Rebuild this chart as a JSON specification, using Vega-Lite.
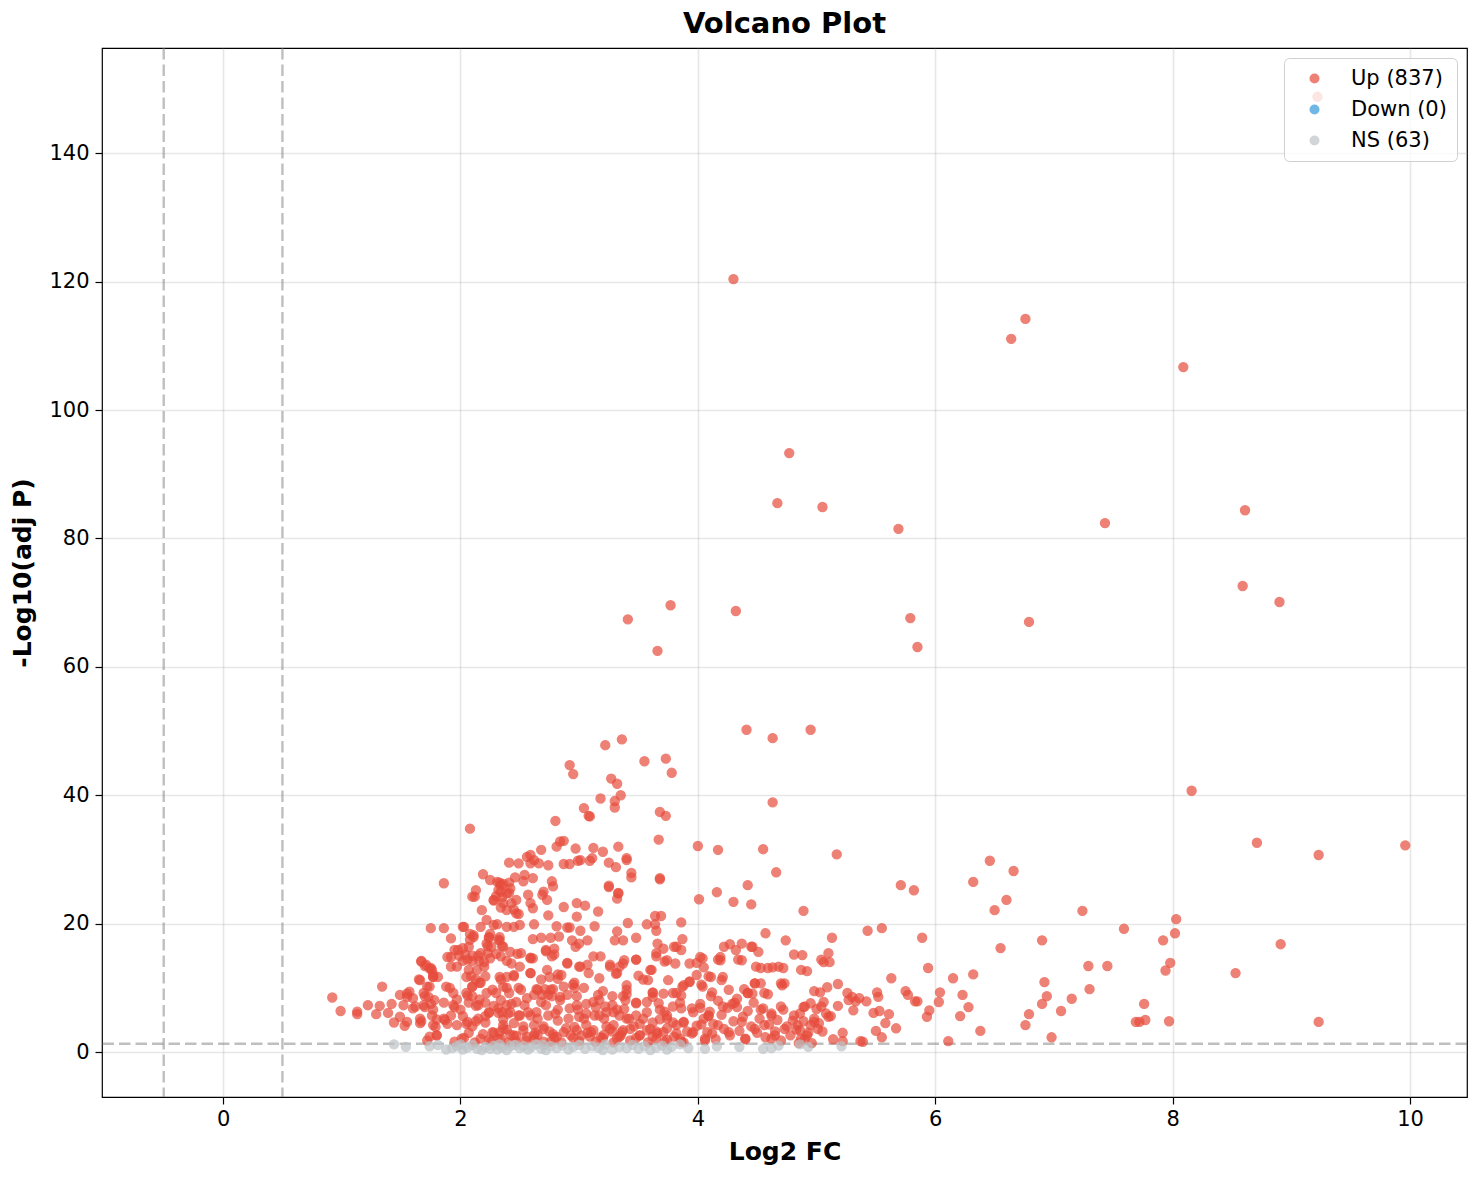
{
  "$schema": "https://vega.github.io/schema/vega-lite/v6.json",
  "description": "Volcano plot of log2 fold change against -log10 adjusted p value.",
  "width": 1365,
  "height": 1049,
  "autosize": "none",
  "padding": {"left": 102, "top": 48, "right": 15, "bottom": 83},
  "background": "white",
  "title": {"text": "Volcano Plot", "fontSize": 29, "fontWeight": "bold", "font": "DejaVu Sans", "color": "#000", "offset": 8, "anchor": "middle"},
  "config": {
    "font": "DejaVu Sans",
    "view": {"stroke": "#000", "strokeWidth": 1.2},
    "axis": {
      "labelFont": "DejaVu Sans", "labelFontSize": 21, "labelColor": "#000",
      "titleFont": "DejaVu Sans", "titleFontSize": 25, "titleFontWeight": "bold", "titleColor": "#000",
      "tickColor": "#000", "tickSize": 7, "tickWidth": 1.2, "domain": false,
      "grid": true, "gridColor": "#b0b0b0", "gridOpacity": 0.3, "gridWidth": 1.6
    },
    "axisX": {"labelPadding": 4, "titlePadding": 10},
    "axisY": {"labelPadding": 6, "titlePadding": 13}
  },
  "datasets": {
    "pts": [
      {"x":4.30,"y":120.4,"g":"Up"},{"x":6.76,"y":114.2,"g":"Up"},{"x":6.64,"y":111.1,"g":"Up"},{"x":8.09,"y":106.7,"g":"Up"},{"x":9.22,"y":148.8,"g":"Up"},
      {"x":4.77,"y":93.3,"g":"Up"},{"x":4.67,"y":85.5,"g":"Up"},{"x":5.05,"y":84.9,"g":"Up"},{"x":8.61,"y":84.4,"g":"Up"},{"x":7.43,"y":82.4,"g":"Up"},
      {"x":5.69,"y":81.5,"g":"Up"},{"x":8.59,"y":72.6,"g":"Up"},{"x":8.90,"y":70.1,"g":"Up"},{"x":3.77,"y":69.6,"g":"Up"},{"x":4.32,"y":68.7,"g":"Up"},
      {"x":3.41,"y":67.4,"g":"Up"},{"x":5.79,"y":67.6,"g":"Up"},{"x":6.79,"y":67.0,"g":"Up"},{"x":5.85,"y":63.1,"g":"Up"},{"x":3.66,"y":62.5,"g":"Up"},
      {"x":4.95,"y":50.2,"g":"Up"},{"x":4.41,"y":50.2,"g":"Up"},{"x":4.63,"y":48.9,"g":"Up"},{"x":3.36,"y":48.7,"g":"Up"},{"x":3.22,"y":47.8,"g":"Up"},
      {"x":3.73,"y":45.7,"g":"Up"},{"x":3.55,"y":45.3,"g":"Up"},{"x":2.92,"y":44.7,"g":"Up"},{"x":2.95,"y":43.3,"g":"Up"},{"x":3.78,"y":43.5,"g":"Up"},
      {"x":3.27,"y":42.6,"g":"Up"},{"x":3.32,"y":41.8,"g":"Up"},{"x":8.16,"y":40.7,"g":"Up"},{"x":3.35,"y":40.0,"g":"Up"},{"x":3.18,"y":39.5,"g":"Up"},
      {"x":4.63,"y":38.9,"g":"Up"},{"x":3.30,"y":39.1,"g":"Up"},{"x":3.30,"y":38.1,"g":"Up"},{"x":3.04,"y":38.0,"g":"Up"},{"x":3.68,"y":37.4,"g":"Up"},
      {"x":3.73,"y":36.8,"g":"Up"},{"x":3.08,"y":36.8,"g":"Up"},{"x":3.09,"y":36.7,"g":"Up"},{"x":2.80,"y":36.0,"g":"Up"},{"x":2.08,"y":34.8,"g":"Up"},
      {"x":3.67,"y":33.1,"g":"Up"},{"x":8.71,"y":32.6,"g":"Up"},{"x":9.96,"y":32.2,"g":"Up"},{"x":4.00,"y":32.1,"g":"Up"},{"x":4.17,"y":31.5,"g":"Up"},
      {"x":4.55,"y":31.6,"g":"Up"},{"x":9.23,"y":30.7,"g":"Up"},{"x":5.17,"y":30.8,"g":"Up"},{"x":6.46,"y":29.8,"g":"Up"},{"x":6.66,"y":28.2,"g":"Up"},
      {"x":4.66,"y":28.0,"g":"Up"},{"x":3.68,"y":26.9,"g":"Up"},{"x":1.86,"y":26.3,"g":"Up"},{"x":6.32,"y":26.5,"g":"Up"},{"x":5.71,"y":26.0,"g":"Up"},
      {"x":5.82,"y":25.2,"g":"Up"},{"x":4.42,"y":26.0,"g":"Up"},{"x":4.16,"y":24.9,"g":"Up"},{"x":4.01,"y":23.8,"g":"Up"},{"x":4.30,"y":23.4,"g":"Up"},
      {"x":4.45,"y":23.0,"g":"Up"},{"x":6.60,"y":23.7,"g":"Up"},{"x":6.50,"y":22.1,"g":"Up"},{"x":7.24,"y":22.0,"g":"Up"},{"x":4.89,"y":22.0,"g":"Up"},
      {"x":6.90,"y":17.4,"g":"Up"},{"x":6.55,"y":16.2,"g":"Up"},{"x":7.29,"y":13.4,"g":"Up"},{"x":7.45,"y":13.4,"g":"Up"},{"x":7.30,"y":9.8,"g":"Up"},
      {"x":6.92,"y":10.9,"g":"Up"},{"x":6.94,"y":8.7,"g":"Up"},{"x":6.90,"y":7.5,"g":"Up"},{"x":7.15,"y":8.3,"g":"Up"},{"x":7.06,"y":6.4,"g":"Up"},
      {"x":6.79,"y":5.9,"g":"Up"},{"x":6.76,"y":4.2,"g":"Up"},{"x":6.98,"y":2.3,"g":"Up"},{"x":6.32,"y":12.1,"g":"Up"},{"x":6.15,"y":11.5,"g":"Up"},
      {"x":6.23,"y":8.9,"g":"Up"},{"x":6.28,"y":7.0,"g":"Up"},{"x":6.21,"y":5.6,"g":"Up"},{"x":6.38,"y":3.3,"g":"Up"},{"x":6.11,"y":1.7,"g":"Up"},
      {"x":5.94,"y":13.1,"g":"Up"},{"x":5.89,"y":17.8,"g":"Up"},{"x":6.04,"y":9.3,"g":"Up"},{"x":6.03,"y":7.8,"g":"Up"},{"x":5.93,"y":5.5,"g":"Up"},
      {"x":5.95,"y":6.5,"g":"Up"},{"x":5.63,"y":11.5,"g":"Up"},{"x":5.55,"y":19.3,"g":"Up"},{"x":5.43,"y":18.9,"g":"Up"},{"x":5.13,"y":17.8,"g":"Up"},
      {"x":5.10,"y":15.4,"g":"Up"},{"x":5.06,"y":14.0,"g":"Up"},{"x":5.11,"y":14.0,"g":"Up"},{"x":5.18,"y":10.6,"g":"Up"},{"x":5.09,"y":10.1,"g":"Up"},
      {"x":5.03,"y":9.3,"g":"Up"},{"x":5.51,"y":9.3,"g":"Up"},{"x":5.52,"y":8.6,"g":"Up"},{"x":5.75,"y":9.5,"g":"Up"},{"x":5.77,"y":8.9,"g":"Up"},
      {"x":5.83,"y":7.9,"g":"Up"},{"x":5.85,"y":7.9,"g":"Up"},{"x":5.61,"y":5.9,"g":"Up"},{"x":5.58,"y":4.5,"g":"Up"},{"x":5.67,"y":3.7,"g":"Up"},
      {"x":5.55,"y":2.3,"g":"Up"},{"x":5.50,"y":3.3,"g":"Up"},{"x":5.48,"y":6.1,"g":"Up"},{"x":5.53,"y":6.4,"g":"Up"},{"x":5.42,"y":7.9,"g":"Up"},
      {"x":5.37,"y":1.7,"g":"Up"},{"x":5.39,"y":1.6,"g":"Up"},{"x":5.22,"y":3.0,"g":"Up"},{"x":5.22,"y":1.7,"g":"Up"},{"x":5.18,"y":7.2,"g":"Up"},
      {"x":5.33,"y":7.9,"g":"Up"},{"x":5.31,"y":6.5,"g":"Up"},{"x":5.26,"y":9.2,"g":"Up"},{"x":5.30,"y":8.6,"g":"Up"},{"x":5.36,"y":8.4,"g":"Up"},
      {"x":5.27,"y":8.1,"g":"Up"},{"x":5.00,"y":6.7,"g":"Up"},{"x":4.95,"y":7.6,"g":"Up"},{"x":4.89,"y":7.0,"g":"Up"},{"x":4.89,"y":4.8,"g":"Up"},
      {"x":4.98,"y":4.7,"g":"Up"},{"x":4.93,"y":3.0,"g":"Up"},{"x":4.86,"y":3.4,"g":"Up"},{"x":4.85,"y":1.4,"g":"Up"},{"x":4.96,"y":1.4,"g":"Up"},
      {"x":5.10,"y":5.5,"g":"Up"},{"x":5.12,"y":5.6,"g":"Up"},{"x":5.08,"y":6.0,"g":"Up"},{"x":5.06,"y":7.8,"g":"Up"},{"x":4.88,"y":15.1,"g":"Up"},
      {"x":4.92,"y":12.6,"g":"Up"},{"x":4.74,"y":17.4,"g":"Up"},{"x":4.57,"y":18.5,"g":"Up"},{"x":4.46,"y":16.4,"g":"Up"},{"x":4.51,"y":15.6,"g":"Up"},
      {"x":4.27,"y":16.8,"g":"Up"},{"x":4.32,"y":15.9,"g":"Up"},{"x":4.37,"y":14.3,"g":"Up"},{"x":4.53,"y":13.1,"g":"Up"},{"x":4.63,"y":13.2,"g":"Up"},
      {"x":4.72,"y":13.1,"g":"Up"},{"x":4.71,"y":10.4,"g":"Up"},{"x":4.73,"y":10.7,"g":"Up"},{"x":4.59,"y":9.0,"g":"Up"},{"x":4.48,"y":10.7,"g":"Up"},
      {"x":4.53,"y":10.7,"g":"Up"},{"x":4.39,"y":9.8,"g":"Up"},{"x":4.42,"y":9.2,"g":"Up"},{"x":4.46,"y":9.1,"g":"Up"},{"x":4.26,"y":9.7,"g":"Up"},
      {"x":4.33,"y":8.3,"g":"Up"},{"x":4.29,"y":7.5,"g":"Up"},{"x":4.21,"y":11.7,"g":"Up"},{"x":4.20,"y":11.2,"g":"Up"},{"x":4.11,"y":11.7,"g":"Up"},
      {"x":4.12,"y":9.3,"g":"Up"},{"x":4.19,"y":14.8,"g":"Up"},{"x":4.19,"y":14.3,"g":"Up"},{"x":4.04,"y":14.6,"g":"Up"},{"x":4.02,"y":14.8,"g":"Up"},
      {"x":4.05,"y":13.2,"g":"Up"},{"x":3.99,"y":12.0,"g":"Up"},{"x":4.03,"y":10.5,"g":"Up"},
      {"x":7.59,"y":19.2,"g":"Up"},{"x":8.03,"y":20.7,"g":"Up"},{"x":8.02,"y":18.5,"g":"Up"},{"x":7.92,"y":17.4,"g":"Up"},{"x":8.91,"y":16.8,"g":"Up"},
      {"x":7.98,"y":13.9,"g":"Up"},{"x":7.94,"y":12.7,"g":"Up"},{"x":8.53,"y":12.3,"g":"Up"},{"x":7.76,"y":7.5,"g":"Up"},{"x":7.69,"y":4.7,"g":"Up"},
      {"x":7.72,"y":4.7,"g":"Up"},{"x":7.77,"y":5.0,"g":"Up"},{"x":7.97,"y":4.8,"g":"Up"},{"x":9.23,"y":4.7,"g":"Up"},
      {"x":4.02,"y":7.5,"g":"Up"},{"x":4.05,"y":5.2,"g":"Up"},{"x":4.08,"y":3.1,"g":"Up"},{"x":4.10,"y":6.3,"g":"Up"},{"x":4.13,"y":4.4,"g":"Up"},
      {"x":4.15,"y":2.0,"g":"Up"},{"x":4.17,"y":8.0,"g":"Up"},{"x":4.20,"y":5.8,"g":"Up"},{"x":4.22,"y":3.6,"g":"Up"},{"x":4.25,"y":6.9,"g":"Up"},
      {"x":4.27,"y":2.6,"g":"Up"},{"x":4.30,"y":4.8,"g":"Up"},{"x":4.33,"y":7.0,"g":"Up"},{"x":4.35,"y":3.3,"g":"Up"},{"x":4.38,"y":5.5,"g":"Up"},
      {"x":4.40,"y":2.0,"g":"Up"},{"x":4.42,"y":6.4,"g":"Up"},{"x":4.45,"y":4.0,"g":"Up"},{"x":4.47,"y":7.7,"g":"Up"},{"x":4.50,"y":3.0,"g":"Up"},
      {"x":4.52,"y":5.2,"g":"Up"},{"x":4.55,"y":6.8,"g":"Up"},{"x":4.57,"y":2.3,"g":"Up"},{"x":4.60,"y":4.3,"g":"Up"},{"x":4.62,"y":6.0,"g":"Up"},
      {"x":4.65,"y":3.2,"g":"Up"},{"x":4.67,"y":5.0,"g":"Up"},{"x":4.70,"y":1.8,"g":"Up"},{"x":4.72,"y":6.6,"g":"Up"},{"x":4.75,"y":4.0,"g":"Up"},
      {"x":4.78,"y":2.6,"g":"Up"},{"x":4.80,"y":4.9,"g":"Up"},{"x":4.83,"y":3.5,"g":"Up"},{"x":4.86,"y":6.0,"g":"Up"},{"x":4.90,"y":2.0,"g":"Up"},
      {"x":4.95,"y":4.2,"g":"Up"},{"x":5.02,"y":4.5,"g":"Up"},{"x":5.05,"y":3.2,"g":"Up"},{"x":5.14,"y":2.0,"g":"Up"},
      {"x":4.03,"y":4.3,"g":"Up"},{"x":4.06,"y":1.8,"g":"Up"},{"x":4.09,"y":5.6,"g":"Up"},{"x":4.12,"y":2.9,"g":"Up"},
      {"x":0.92,"y":8.5,"g":"Up"},{"x":0.99,"y":6.4,"g":"Up"},{"x":1.13,"y":6.3,"g":"Up"},{"x":1.13,"y":5.9,"g":"Up"},{"x":1.22,"y":7.3,"g":"Up"},
      {"x":1.29,"y":5.9,"g":"Up"},{"x":1.34,"y":10.2,"g":"Up"},{"x":1.32,"y":7.2,"g":"Up"},{"x":1.39,"y":6.1,"g":"Up"},{"x":1.42,"y":7.5,"g":"Up"},
      {"x":1.44,"y":4.6,"g":"Up"},{"x":1.49,"y":8.9,"g":"Up"},{"x":1.49,"y":5.5,"g":"Up"},{"x":1.53,"y":4.1,"g":"Up"},{"x":1.57,"y":9.4,"g":"Up"},
      {"x":1.55,"y":8.6,"g":"Up"},{"x":1.62,"y":7.1,"g":"Up"},{"x":1.65,"y":11.3,"g":"Up"},{"x":1.67,"y":14.2,"g":"Up"},{"x":1.70,"y":13.4,"g":"Up"},
      {"x":1.66,"y":4.5,"g":"Up"},{"x":1.67,"y":4.8,"g":"Up"},{"x":1.75,"y":19.3,"g":"Up"},{"x":1.86,"y":19.3,"g":"Up"},{"x":1.92,"y":17.7,"g":"Up"},
      {"x":1.74,"y":13.0,"g":"Up"},{"x":1.77,"y":11.7,"g":"Up"},{"x":1.81,"y":11.7,"g":"Up"},{"x":1.72,"y":10.2,"g":"Up"},{"x":1.69,"y":9.2,"g":"Up"},
      {"x":1.73,"y":8.6,"g":"Up"},{"x":1.75,"y":7.5,"g":"Up"},{"x":1.70,"y":7.0,"g":"Up"},{"x":1.76,"y":5.7,"g":"Up"},{"x":1.79,"y":3.9,"g":"Up"},
      {"x":1.74,"y":2.4,"g":"Up"},{"x":1.80,"y":5.1,"g":"Up"},{"x":1.87,"y":5.0,"g":"Up"},{"x":1.89,"y":4.4,"g":"Up"},{"x":1.88,"y":10.2,"g":"Up"},
      {"x":1.91,"y":10.0,"g":"Up"},{"x":1.94,"y":9.2,"g":"Up"},{"x":1.95,"y":7.0,"g":"Up"},{"x":1.97,"y":8.2,"g":"Up"},{"x":1.89,"y":14.8,"g":"Up"},
      {"x":1.92,"y":14.8,"g":"Up"},{"x":1.95,"y":15.9,"g":"Up"},{"x":1.98,"y":15.9,"g":"Up"},{"x":1.92,"y":13.3,"g":"Up"},{"x":1.97,"y":13.3,"g":"Up"},
      {"x":2.02,"y":19.5,"g":"Up"},{"x":2.11,"y":18.2,"g":"Up"},{"x":2.08,"y":17.5,"g":"Up"},{"x":2.12,"y":24.2,"g":"Up"},{"x":2.10,"y":24.2,"g":"Up"},
      {"x":2.13,"y":25.2,"g":"Up"},{"x":2.19,"y":27.7,"g":"Up"},{"x":2.18,"y":22.1,"g":"Up"},{"x":2.04,"y":15.2,"g":"Up"},{"x":2.02,"y":14.2,"g":"Up"},
      {"x":2.10,"y":14.2,"g":"Up"},{"x":2.16,"y":14.2,"g":"Up"},{"x":2.07,"y":12.8,"g":"Up"},{"x":2.05,"y":11.7,"g":"Up"},{"x":2.13,"y":11.3,"g":"Up"},
      {"x":2.16,"y":10.8,"g":"Up"},{"x":2.10,"y":10.2,"g":"Up"},{"x":2.05,"y":9.2,"g":"Up"},{"x":2.10,"y":8.7,"g":"Up"},{"x":2.16,"y":8.2,"g":"Up"},
      {"x":2.07,"y":7.7,"g":"Up"},{"x":2.13,"y":7.2,"g":"Up"},{"x":2.21,"y":7.7,"g":"Up"},{"x":2.02,"y":5.6,"g":"Up"},{"x":2.05,"y":4.4,"g":"Up"},
      {"x":2.10,"y":4.0,"g":"Up"},{"x":2.13,"y":4.8,"g":"Up"},{"x":2.07,"y":3.0,"g":"Up"},{"x":2.21,"y":4.6,"g":"Up"},{"x":2.22,"y":16.9,"g":"Up"},
      {"x":2.24,"y":17.9,"g":"Up"},{"x":2.22,"y":20.6,"g":"Up"},{"x":2.25,"y":18.4,"g":"Up"},{"x":2.28,"y":19.8,"g":"Up"},{"x":2.23,"y":15.4,"g":"Up"},
      {"x":2.25,"y":14.6,"g":"Up"},{"x":2.20,"y":13.3,"g":"Up"},{"x":2.28,"y":23.7,"g":"Up"},{"x":2.25,"y":26.8,"g":"Up"},{"x":2.33,"y":26.4,"g":"Up"},
      {"x":2.32,"y":25.2,"g":"Up"},{"x":2.30,"y":24.3,"g":"Up"},{"x":2.36,"y":23.2,"g":"Up"},{"x":2.39,"y":22.1,"g":"Up"},{"x":2.41,"y":26.4,"g":"Up"},
      {"x":2.41,"y":24.8,"g":"Up"},{"x":2.41,"y":29.5,"g":"Up"},{"x":2.33,"y":17.4,"g":"Up"},{"x":2.36,"y":16.4,"g":"Up"},{"x":2.30,"y":15.3,"g":"Up"},
      {"x":2.39,"y":14.2,"g":"Up"},{"x":2.33,"y":11.7,"g":"Up"},{"x":2.36,"y":10.2,"g":"Up"},{"x":2.41,"y":9.2,"g":"Up"},{"x":2.30,"y":9.2,"g":"Up"},
      {"x":2.22,"y":9.2,"g":"Up"},{"x":2.28,"y":7.2,"g":"Up"},{"x":2.24,"y":6.1,"g":"Up"},{"x":2.21,"y":5.6,"g":"Up"},{"x":2.32,"y":6.1,"g":"Up"},
      {"x":2.36,"y":5.1,"g":"Up"},{"x":2.39,"y":3.5,"g":"Up"},{"x":2.28,"y":3.0,"g":"Up"},{"x":2.32,"y":2.1,"g":"Up"},{"x":2.24,"y":1.9,"g":"Up"},
      {"x":2.49,"y":29.4,"g":"Up"},{"x":2.59,"y":29.4,"g":"Up"},{"x":2.66,"y":29.4,"g":"Up"},{"x":2.74,"y":29.1,"g":"Up"},{"x":2.87,"y":29.3,"g":"Up"},
      {"x":2.92,"y":29.3,"g":"Up"},{"x":2.99,"y":29.8,"g":"Up"},{"x":3.09,"y":29.8,"g":"Up"},{"x":3.25,"y":29.5,"g":"Up"},{"x":3.31,"y":28.8,"g":"Up"},
      {"x":3.40,"y":29.9,"g":"Up"},{"x":3.44,"y":27.9,"g":"Up"},{"x":3.44,"y":27.2,"g":"Up"},{"x":3.68,"y":27.1,"g":"Up"},{"x":3.25,"y":25.9,"g":"Up"},
      {"x":3.33,"y":24.8,"g":"Up"},{"x":3.32,"y":23.9,"g":"Up"},{"x":2.54,"y":27.6,"g":"Up"},{"x":2.53,"y":26.6,"g":"Up"},{"x":2.61,"y":27.1,"g":"Up"},
      {"x":2.77,"y":26.6,"g":"Up"},{"x":2.78,"y":25.8,"g":"Up"},{"x":2.70,"y":25.0,"g":"Up"},{"x":2.69,"y":24.5,"g":"Up"},{"x":2.73,"y":23.7,"g":"Up"},
      {"x":2.42,"y":25.5,"g":"Up"},{"x":2.36,"y":26.2,"g":"Up"},{"x":2.39,"y":24.7,"g":"Up"},{"x":2.57,"y":24.5,"g":"Up"},{"x":2.59,"y":23.2,"g":"Up"},
      {"x":2.61,"y":22.4,"g":"Up"},{"x":2.43,"y":23.2,"g":"Up"},{"x":2.47,"y":21.6,"g":"Up"},{"x":2.45,"y":19.5,"g":"Up"},{"x":2.50,"y":19.8,"g":"Up"},
      {"x":2.39,"y":19.5,"g":"Up"},{"x":2.33,"y":17.9,"g":"Up"},{"x":2.74,"y":21.3,"g":"Up"},{"x":2.87,"y":22.6,"g":"Up"},{"x":2.98,"y":23.2,"g":"Up"},
      {"x":3.05,"y":22.8,"g":"Up"},{"x":3.16,"y":21.9,"g":"Up"},{"x":2.98,"y":21.1,"g":"Up"},{"x":2.62,"y":19.9,"g":"Up"},{"x":2.81,"y":19.6,"g":"Up"},
      {"x":2.90,"y":19.4,"g":"Up"},{"x":2.92,"y":19.4,"g":"Up"},{"x":3.01,"y":18.9,"g":"Up"},{"x":3.13,"y":19.6,"g":"Up"},{"x":3.41,"y":20.1,"g":"Up"},
      {"x":3.57,"y":19.9,"g":"Up"},{"x":3.64,"y":21.2,"g":"Up"},{"x":3.69,"y":21.2,"g":"Up"},{"x":3.65,"y":18.9,"g":"Up"},{"x":3.64,"y":19.9,"g":"Up"},
      {"x":3.86,"y":20.2,"g":"Up"},{"x":2.61,"y":17.6,"g":"Up"},{"x":2.68,"y":17.8,"g":"Up"},{"x":2.76,"y":17.8,"g":"Up"},{"x":2.83,"y":18.0,"g":"Up"},
      {"x":2.94,"y":17.4,"g":"Up"},{"x":3.00,"y":16.9,"g":"Up"},{"x":3.07,"y":17.4,"g":"Up"},{"x":2.97,"y":16.4,"g":"Up"},{"x":2.72,"y":15.9,"g":"Up"},
      {"x":2.79,"y":16.1,"g":"Up"},{"x":2.77,"y":14.9,"g":"Up"},{"x":2.59,"y":14.6,"g":"Up"},{"x":2.42,"y":15.6,"g":"Up"},{"x":2.48,"y":15.3,"g":"Up"},
      {"x":3.32,"y":18.8,"g":"Up"},{"x":3.30,"y":17.4,"g":"Up"},{"x":3.37,"y":17.4,"g":"Up"},{"x":3.48,"y":17.8,"g":"Up"},{"x":3.66,"y":16.9,"g":"Up"},
      {"x":3.71,"y":16.1,"g":"Up"},{"x":3.65,"y":14.9,"g":"Up"},{"x":3.80,"y":16.4,"g":"Up"},{"x":3.87,"y":17.6,"g":"Up"},{"x":3.86,"y":15.9,"g":"Up"},
      {"x":3.74,"y":14.3,"g":"Up"},{"x":3.81,"y":13.8,"g":"Up"},{"x":2.90,"y":13.9,"g":"Up"},{"x":3.00,"y":13.3,"g":"Up"},{"x":3.07,"y":13.6,"g":"Up"},
      {"x":3.12,"y":14.9,"g":"Up"},{"x":3.18,"y":14.9,"g":"Up"},{"x":3.26,"y":13.3,"g":"Up"},{"x":3.34,"y":13.3,"g":"Up"},{"x":3.38,"y":14.3,"g":"Up"},
      {"x":3.48,"y":14.4,"g":"Up"},{"x":3.61,"y":12.8,"g":"Up"},{"x":3.31,"y":12.2,"g":"Up"},{"x":3.50,"y":11.9,"g":"Up"},{"x":3.58,"y":11.2,"g":"Up"},
      {"x":3.75,"y":11.2,"g":"Up"},{"x":2.73,"y":12.8,"g":"Up"},{"x":2.75,"y":11.7,"g":"Up"},{"x":2.82,"y":11.4,"g":"Up"},{"x":2.85,"y":12.0,"g":"Up"},
      {"x":2.59,"y":12.3,"g":"Up"},{"x":2.39,"y":11.7,"g":"Up"},{"x":2.45,"y":12.0,"g":"Up"},{"x":2.50,"y":13.3,"g":"Up"},{"x":2.59,"y":14.7,"g":"Up"},
      {"x":2.39,"y":10.0,"g":"Up"},{"x":2.49,"y":10.0,"g":"Up"},{"x":2.64,"y":9.8,"g":"Up"},{"x":2.71,"y":9.8,"g":"Up"},{"x":2.78,"y":9.8,"g":"Up"},
      {"x":2.95,"y":10.5,"g":"Up"},{"x":3.04,"y":10.0,"g":"Up"},{"x":2.96,"y":10.0,"g":"Up"},{"x":2.90,"y":8.9,"g":"Up"},{"x":2.84,"y":8.6,"g":"Up"},
      {"x":2.74,"y":8.9,"g":"Up"},{"x":2.69,"y":8.9,"g":"Up"},{"x":2.62,"y":8.9,"g":"Up"},{"x":3.20,"y":9.5,"g":"Up"},{"x":3.16,"y":8.9,"g":"Up"},
      {"x":3.40,"y":10.4,"g":"Up"},{"x":3.40,"y":9.0,"g":"Up"},{"x":3.39,"y":8.1,"g":"Up"},{"x":3.48,"y":7.6,"g":"Up"},{"x":3.62,"y":9.3,"g":"Up"},
      {"x":3.62,"y":8.6,"g":"Up"},{"x":3.71,"y":9.1,"g":"Up"},{"x":3.79,"y":9.2,"g":"Up"},{"x":3.86,"y":8.8,"g":"Up"},{"x":3.88,"y":10.4,"g":"Up"},
      {"x":3.93,"y":10.9,"g":"Up"},{"x":3.99,"y":13.9,"g":"Up"},{"x":3.57,"y":7.8,"g":"Up"},{"x":3.67,"y":7.6,"g":"Up"},{"x":3.79,"y":7.1,"g":"Up"},
      {"x":3.86,"y":6.8,"g":"Up"},{"x":3.72,"y":6.3,"g":"Up"},{"x":3.95,"y":6.8,"g":"Up"},{"x":2.39,"y":7.3,"g":"Up"},{"x":2.47,"y":7.8,"g":"Up"},
      {"x":2.54,"y":7.3,"g":"Up"},{"x":2.35,"y":6.2,"g":"Up"},{"x":2.42,"y":6.2,"g":"Up"},{"x":2.50,"y":5.7,"g":"Up"},{"x":2.59,"y":5.7,"g":"Up"},
      {"x":2.64,"y":6.2,"g":"Up"},{"x":2.72,"y":7.3,"g":"Up"},{"x":2.80,"y":6.0,"g":"Up"},{"x":2.82,"y":4.9,"g":"Up"},{"x":2.92,"y":6.8,"g":"Up"},
      {"x":2.98,"y":7.3,"g":"Up"},{"x":3.00,"y":5.5,"g":"Up"},{"x":3.06,"y":6.0,"g":"Up"},{"x":3.12,"y":7.8,"g":"Up"},{"x":3.14,"y":7.0,"g":"Up"},
      {"x":3.17,"y":5.7,"g":"Up"},{"x":3.23,"y":6.2,"g":"Up"},{"x":3.28,"y":7.3,"g":"Up"},{"x":3.34,"y":5.7,"g":"Up"},{"x":3.38,"y":6.7,"g":"Up"},
      {"x":3.42,"y":5.2,"g":"Up"},{"x":3.48,"y":5.7,"g":"Up"},{"x":3.51,"y":4.4,"g":"Up"},{"x":3.57,"y":6.2,"g":"Up"},{"x":3.62,"y":4.6,"g":"Up"},
      {"x":3.68,"y":5.1,"g":"Up"},{"x":3.74,"y":5.7,"g":"Up"},{"x":3.79,"y":4.6,"g":"Up"},{"x":3.88,"y":4.6,"g":"Up"},{"x":3.96,"y":6.2,"g":"Up"},
      {"x":3.99,"y":4.1,"g":"Up"},{"x":2.36,"y":4.2,"g":"Up"},{"x":2.45,"y":4.5,"g":"Up"},{"x":2.53,"y":4.0,"g":"Up"},{"x":2.62,"y":4.2,"g":"Up"},
      {"x":2.70,"y":4.0,"g":"Up"},{"x":2.75,"y":3.2,"g":"Up"},{"x":2.89,"y":3.7,"g":"Up"},{"x":2.98,"y":3.4,"g":"Up"},{"x":3.06,"y":4.2,"g":"Up"},
      {"x":3.12,"y":3.4,"g":"Up"},{"x":3.23,"y":4.0,"g":"Up"},{"x":3.28,"y":3.2,"g":"Up"},{"x":3.37,"y":3.4,"g":"Up"},{"x":3.46,"y":4.0,"g":"Up"},
      {"x":3.57,"y":3.4,"g":"Up"},{"x":3.65,"y":3.2,"g":"Up"},{"x":3.74,"y":3.7,"g":"Up"},{"x":3.82,"y":2.9,"g":"Up"},{"x":3.91,"y":3.2,"g":"Up"},
      {"x":2.42,"y":2.7,"g":"Up"},{"x":2.56,"y":2.4,"g":"Up"},{"x":2.65,"y":2.7,"g":"Up"},{"x":2.81,"y":2.4,"g":"Up"},{"x":2.95,"y":2.2,"g":"Up"},
      {"x":3.09,"y":2.4,"g":"Up"},{"x":3.20,"y":2.2,"g":"Up"},{"x":3.34,"y":2.4,"g":"Up"},{"x":3.48,"y":2.2,"g":"Up"},{"x":3.62,"y":2.4,"g":"Up"},
      {"x":3.74,"y":1.9,"g":"Up"},{"x":3.86,"y":1.6,"g":"Up"},{"x":2.62,"y":1.9,"g":"Up"},{"x":2.47,"y":1.6,"g":"Up"},{"x":2.76,"y":1.6,"g":"Up"},
      {"x":2.84,"y":32.8,"g":"Up"},{"x":2.87,"y":32.9,"g":"Up"},{"x":2.81,"y":32.0,"g":"Up"},{"x":2.97,"y":31.7,"g":"Up"},{"x":3.12,"y":31.8,"g":"Up"},
      {"x":3.20,"y":31.2,"g":"Up"},{"x":3.33,"y":32.0,"g":"Up"},{"x":2.68,"y":31.5,"g":"Up"},{"x":2.59,"y":30.7,"g":"Up"},{"x":2.56,"y":30.4,"g":"Up"},
      {"x":2.62,"y":29.9,"g":"Up"},{"x":3.01,"y":29.9,"g":"Up"},{"x":3.11,"y":30.2,"g":"Up"},{"x":3.40,"y":30.2,"g":"Up"},{"x":3.25,"y":25.7,"g":"Up"},
      {"x":3.33,"y":24.7,"g":"Up"},{"x":2.31,"y":26.5,"g":"Up"},{"x":2.34,"y":26.0,"g":"Up"},{"x":2.46,"y":27.2,"g":"Up"},{"x":2.34,"y":25.0,"g":"Up"},
      {"x":2.35,"y":24.1,"g":"Up"},{"x":2.28,"y":23.6,"g":"Up"},{"x":2.34,"y":22.5,"g":"Up"},{"x":2.47,"y":23.7,"g":"Up"},{"x":2.45,"y":22.2,"g":"Up"},
      {"x":2.49,"y":21.5,"g":"Up"},{"x":2.03,"y":19.5,"g":"Up"},{"x":2.08,"y":18.4,"g":"Up"},{"x":2.11,"y":17.9,"g":"Up"},{"x":2.17,"y":19.5,"g":"Up"},
      {"x":2.31,"y":19.9,"g":"Up"},{"x":2.24,"y":17.8,"g":"Up"},{"x":2.23,"y":16.5,"g":"Up"},{"x":2.32,"y":17.5,"g":"Up"},{"x":2.35,"y":16.5,"g":"Up"},
      {"x":2.02,"y":16.2,"g":"Up"},{"x":2.07,"y":16.4,"g":"Up"},{"x":2.10,"y":15.0,"g":"Up"},{"x":1.99,"y":15.0,"g":"Up"},{"x":2.15,"y":15.0,"g":"Up"},
      {"x":2.20,"y":14.0,"g":"Up"},{"x":1.71,"y":13.6,"g":"Up"},{"x":1.75,"y":13.1,"g":"Up"},{"x":1.77,"y":12.1,"g":"Up"},
      {"x":1.72,"y":1.8,"g":"Up"},{"x":1.80,"y":2.6,"g":"Up"},{"x":1.95,"y":1.6,"g":"Up"},{"x":2.03,"y":2.2,"g":"Up"},{"x":2.12,"y":1.5,"g":"Up"},
      {"x":2.19,"y":2.8,"g":"Up"},{"x":2.26,"y":1.7,"g":"Up"},{"x":2.33,"y":3.1,"g":"Up"},{"x":2.40,"y":1.5,"g":"Up"},{"x":2.47,"y":2.5,"g":"Up"},
      {"x":2.55,"y":1.8,"g":"Up"},{"x":2.63,"y":3.0,"g":"Up"},{"x":2.70,"y":1.6,"g":"Up"},{"x":2.78,"y":2.8,"g":"Up"},{"x":2.85,"y":1.5,"g":"Up"},
      {"x":2.93,"y":2.6,"g":"Up"},{"x":3.00,"y":1.7,"g":"Up"},{"x":3.07,"y":3.0,"g":"Up"},{"x":3.14,"y":1.6,"g":"Up"},{"x":3.21,"y":2.7,"g":"Up"},
      {"x":3.29,"y":1.5,"g":"Up"},{"x":3.36,"y":3.1,"g":"Up"},{"x":3.43,"y":1.8,"g":"Up"},{"x":3.51,"y":2.6,"g":"Up"},{"x":3.58,"y":1.5,"g":"Up"},
      {"x":3.66,"y":2.9,"g":"Up"},{"x":3.72,"y":1.6,"g":"Up"},{"x":3.80,"y":2.4,"g":"Up"},{"x":3.88,"y":1.5,"g":"Up"},{"x":3.95,"y":2.9,"g":"Up"},
      {"x":1.67,"y":14.1,"g":"Up"},{"x":1.76,"y":12.8,"g":"Up"},{"x":1.66,"y":11.2,"g":"Up"},{"x":1.77,"y":11.7,"g":"Up"},{"x":1.74,"y":10.2,"g":"Up"},
      {"x":1.55,"y":9.1,"g":"Up"},{"x":1.60,"y":8.4,"g":"Up"},{"x":1.70,"y":8.7,"g":"Up"},{"x":1.78,"y":8.1,"g":"Up"},{"x":1.52,"y":7.3,"g":"Up"},
      {"x":1.60,"y":6.8,"g":"Up"},{"x":1.69,"y":7.3,"g":"Up"},{"x":1.77,"y":6.6,"g":"Up"},{"x":1.86,"y":7.7,"g":"Up"},{"x":1.94,"y":7.3,"g":"Up"},
      {"x":1.92,"y":5.7,"g":"Up"},{"x":2.00,"y":6.6,"g":"Up"},{"x":2.06,"y":8.8,"g":"Up"},{"x":2.10,"y":10.2,"g":"Up"},{"x":2.17,"y":10.8,"g":"Up"},
      {"x":2.09,"y":11.8,"g":"Up"},{"x":2.14,"y":12.8,"g":"Up"},{"x":2.06,"y":14.4,"g":"Up"},{"x":2.17,"y":15.4,"g":"Up"},{"x":2.26,"y":16.4,"g":"Up"},
      {"x":2.34,"y":14.9,"g":"Up"},{"x":2.43,"y":13.8,"g":"Up"},{"x":2.51,"y":15.4,"g":"Up"},{"x":2.61,"y":14.6,"g":"Up"},{"x":2.72,"y":15.7,"g":"Up"},
      {"x":2.79,"y":15.2,"g":"Up"},{"x":2.90,"y":13.8,"g":"Up"},{"x":3.01,"y":13.3,"g":"Up"},{"x":3.08,"y":12.3,"g":"Up"},{"x":3.17,"y":11.5,"g":"Up"},
      {"x":3.26,"y":13.6,"g":"Up"},{"x":2.21,"y":11.8,"g":"Up"},{"x":2.27,"y":9.7,"g":"Up"},{"x":2.34,"y":11.3,"g":"Up"},{"x":2.45,"y":11.8,"g":"Up"},
      {"x":2.51,"y":9.7,"g":"Up"},{"x":2.59,"y":12.3,"g":"Up"},{"x":2.68,"y":11.3,"g":"Up"},{"x":2.82,"y":12.1,"g":"Up"},{"x":2.87,"y":10.2,"g":"Up"},
      {"x":2.96,"y":10.8,"g":"Up"},{"x":2.76,"y":9.7,"g":"Up"},{"x":2.65,"y":9.7,"g":"Up"},{"x":2.34,"y":8.1,"g":"Up"},{"x":2.43,"y":7.5,"g":"Up"},
      {"x":2.56,"y":8.4,"g":"Up"},{"x":2.68,"y":7.8,"g":"Up"},{"x":2.77,"y":8.7,"g":"Up"},{"x":2.84,"y":8.1,"g":"Up"},{"x":2.98,"y":8.7,"g":"Up"},
      {"x":3.06,"y":7.5,"g":"Up"},{"x":3.17,"y":8.1,"g":"Up"},{"x":3.22,"y":7.1,"g":"Up"},{"x":3.28,"y":8.7,"g":"Up"},{"x":2.15,"y":7.3,"g":"Up"},
      {"x":2.24,"y":6.2,"g":"Up"},{"x":2.32,"y":6.8,"g":"Up"},{"x":2.40,"y":6.0,"g":"Up"},{"x":2.49,"y":5.7,"g":"Up"},{"x":2.57,"y":6.2,"g":"Up"},
      {"x":2.65,"y":5.2,"g":"Up"},{"x":2.74,"y":5.7,"g":"Up"},{"x":2.82,"y":6.6,"g":"Up"},{"x":2.91,"y":5.2,"g":"Up"},{"x":2.99,"y":6.6,"g":"Up"},
      {"x":3.04,"y":5.2,"g":"Up"},{"x":3.13,"y":5.7,"g":"Up"},{"x":3.21,"y":5.2,"g":"Up"},{"x":3.29,"y":6.2,"g":"Up"},{"x":1.55,"y":4.7,"g":"Up"},
      {"x":1.66,"y":5.2,"g":"Up"},{"x":1.77,"y":4.2,"g":"Up"},{"x":1.86,"y":5.2,"g":"Up"},{"x":1.97,"y":4.2,"g":"Up"},{"x":2.06,"y":4.7,"g":"Up"},
      {"x":2.15,"y":5.2,"g":"Up"},{"x":1.80,"y":2.6,"g":"Up"},{"x":2.17,"y":2.1,"g":"Up"},{"x":2.27,"y":3.1,"g":"Up"},{"x":2.36,"y":3.6,"g":"Up"},
      {"x":2.45,"y":2.6,"g":"Up"},{"x":2.53,"y":3.4,"g":"Up"},{"x":2.62,"y":2.6,"g":"Up"},{"x":2.70,"y":3.6,"g":"Up"},{"x":2.79,"y":2.3,"g":"Up"},
      {"x":2.87,"y":3.1,"g":"Up"},{"x":2.96,"y":3.9,"g":"Up"},{"x":3.02,"y":2.6,"g":"Up"},{"x":3.10,"y":3.1,"g":"Up"},{"x":3.18,"y":2.3,"g":"Up"},
      {"x":3.26,"y":3.6,"g":"Up"},{"x":3.32,"y":2.1,"g":"Up"},{"x":2.34,"y":2.1,"g":"Up"},{"x":2.01,"y":2.1,"g":"Up"},
      {"x":3.32,"y":12.3,"g":"Up"},{"x":3.37,"y":13.8,"g":"Up"},{"x":3.48,"y":14.4,"g":"Up"},{"x":3.60,"y":12.8,"g":"Up"},{"x":3.54,"y":11.3,"g":"Up"},
      {"x":3.65,"y":15.4,"g":"Up"},{"x":3.72,"y":14.1,"g":"Up"},{"x":3.82,"y":16.4,"g":"Up"},{"x":3.93,"y":13.8,"g":"Up"},{"x":3.40,"y":9.7,"g":"Up"},
      {"x":3.37,"y":8.7,"g":"Up"},{"x":3.48,"y":7.7,"g":"Up"},{"x":3.62,"y":9.2,"g":"Up"},{"x":3.68,"y":6.6,"g":"Up"},{"x":3.82,"y":9.2,"g":"Up"},
      {"x":3.87,"y":10.2,"g":"Up"},{"x":3.93,"y":11.0,"g":"Up"},{"x":3.85,"y":7.7,"g":"Up"},{"x":3.32,"y":6.6,"g":"Up"},{"x":3.40,"y":5.2,"g":"Up"},
      {"x":3.54,"y":5.2,"g":"Up"},{"x":3.74,"y":5.2,"g":"Up"},{"x":3.88,"y":4.7,"g":"Up"},{"x":3.29,"y":4.2,"g":"Up"},{"x":3.43,"y":3.6,"g":"Up"},
      {"x":3.60,"y":3.6,"g":"Up"},{"x":3.71,"y":3.1,"g":"Up"},{"x":3.82,"y":4.2,"g":"Up"},{"x":3.96,"y":3.1,"g":"Up"},{"x":3.35,"y":2.6,"g":"Up"},
      {"x":3.51,"y":2.6,"g":"Up"},{"x":3.65,"y":2.1,"g":"Up"},{"x":3.85,"y":2.1,"g":"Up"},{"x":4.02,"y":6.9,"g":"Up"},{"x":4.04,"y":10.2,"g":"Up"},
      {"x":4.09,"y":11.8,"g":"Up"},{"x":4.17,"y":14.4,"g":"Up"},{"x":4.11,"y":8.7,"g":"Up"},{"x":4.21,"y":7.1,"g":"Up"},{"x":4.31,"y":7.7,"g":"Up"},
      {"x":4.42,"y":9.2,"g":"Up"},{"x":4.53,"y":6.6,"g":"Up"},{"x":4.62,"y":5.7,"g":"Up"},{"x":4.70,"y":7.1,"g":"Up"},{"x":4.81,"y":5.7,"g":"Up"},
      {"x":4.90,"y":7.1,"g":"Up"},{"x":4.98,"y":5.2,"g":"Up"},{"x":5.04,"y":7.1,"g":"Up"},{"x":4.09,"y":5.7,"g":"Up"},{"x":4.17,"y":4.2,"g":"Up"},
      {"x":4.26,"y":3.1,"g":"Up"},{"x":4.37,"y":4.7,"g":"Up"},{"x":4.48,"y":3.6,"g":"Up"},{"x":4.56,"y":4.2,"g":"Up"},{"x":4.65,"y":2.6,"g":"Up"},
      {"x":4.73,"y":3.6,"g":"Up"},{"x":4.84,"y":4.2,"g":"Up"},{"x":4.92,"y":2.6,"g":"Up"},{"x":5.01,"y":3.6,"g":"Up"},{"x":4.06,"y":2.1,"g":"Up"},
      {"x":4.40,"y":2.1,"g":"Up"},{"x":4.62,"y":2.1,"g":"Up"},{"x":4.87,"y":2.1,"g":"Up"},{"x":4.22,"y":16.4,"g":"Up"},{"x":4.34,"y":14.4,"g":"Up"},
      {"x":4.49,"y":13.3,"g":"Up"},{"x":4.59,"y":13.1,"g":"Up"},{"x":4.68,"y":13.3,"g":"Up"},{"x":4.87,"y":12.8,"g":"Up"},{"x":4.98,"y":9.5,"g":"Up"},
      {"x":5.04,"y":14.4,"g":"Up"},{"x":4.48,"y":10.7,"g":"Up"},{"x":4.56,"y":9.2,"g":"Up"},{"x":4.70,"y":10.7,"g":"Up"},{"x":4.37,"y":16.9,"g":"Up"},
      {"x":4.45,"y":16.4,"g":"Up"},{"x":4.81,"y":15.2,"g":"Up"},
      {"x":1.44,"y":1.2,"g":"NS"},{"x":1.54,"y":0.8,"g":"NS"},{"x":1.74,"y":0.9,"g":"NS"},{"x":1.81,"y":1.1,"g":"NS"},{"x":1.88,"y":0.4,"g":"NS"},
      {"x":1.93,"y":0.6,"g":"NS"},{"x":1.97,"y":0.9,"g":"NS"},{"x":2.02,"y":0.4,"g":"NS"},{"x":2.06,"y":0.7,"g":"NS"},{"x":2.10,"y":1.1,"g":"NS"},
      {"x":2.14,"y":0.5,"g":"NS"},{"x":2.18,"y":0.3,"g":"NS"},{"x":2.21,"y":0.8,"g":"NS"},{"x":2.25,"y":0.5,"g":"NS"},{"x":2.28,"y":1.0,"g":"NS"},
      {"x":2.31,"y":0.4,"g":"NS"},{"x":2.35,"y":0.7,"g":"NS"},{"x":2.39,"y":0.3,"g":"NS"},{"x":2.42,"y":0.9,"g":"NS"},{"x":2.46,"y":1.1,"g":"NS"},
      {"x":2.50,"y":0.6,"g":"NS"},{"x":2.53,"y":0.9,"g":"NS"},{"x":2.57,"y":0.4,"g":"NS"},{"x":2.60,"y":0.8,"g":"NS"},{"x":2.64,"y":1.2,"g":"NS"},
      {"x":2.68,"y":0.5,"g":"NS"},{"x":2.72,"y":0.3,"g":"NS"},{"x":2.76,"y":0.9,"g":"NS"},{"x":2.81,"y":0.6,"g":"NS"},{"x":2.86,"y":1.0,"g":"NS"},
      {"x":2.91,"y":0.4,"g":"NS"},{"x":2.95,"y":0.8,"g":"NS"},{"x":3.00,"y":1.1,"g":"NS"},{"x":3.05,"y":0.5,"g":"NS"},{"x":3.11,"y":0.9,"g":"NS"},
      {"x":3.16,"y":0.7,"g":"NS"},{"x":3.22,"y":1.2,"g":"NS"},{"x":3.28,"y":0.4,"g":"NS"},{"x":3.34,"y":0.8,"g":"NS"},{"x":3.40,"y":0.6,"g":"NS"},
      {"x":3.45,"y":1.1,"g":"NS"},{"x":3.50,"y":0.5,"g":"NS"},{"x":3.55,"y":0.9,"g":"NS"},{"x":3.60,"y":0.3,"g":"NS"},{"x":3.65,"y":0.7,"g":"NS"},
      {"x":3.70,"y":1.0,"g":"NS"},{"x":3.74,"y":0.4,"g":"NS"},{"x":3.78,"y":0.8,"g":"NS"},{"x":3.85,"y":1.2,"g":"NS"},{"x":3.92,"y":0.6,"g":"NS"},
      {"x":4.06,"y":0.5,"g":"NS"},{"x":4.16,"y":0.9,"g":"NS"},{"x":4.35,"y":0.8,"g":"NS"},{"x":4.55,"y":0.5,"g":"NS"},{"x":4.62,"y":0.6,"g":"NS"},
      {"x":4.68,"y":1.0,"g":"NS"},{"x":4.86,"y":1.2,"g":"NS"},{"x":4.93,"y":0.8,"g":"NS"},{"x":5.21,"y":0.9,"g":"NS"},{"x":2.00,"y":1.2,"g":"NS"},
      {"x":2.33,"y":1.2,"g":"NS"},{"x":2.70,"y":1.1,"g":"NS"},{"x":3.20,"y":0.3,"g":"NS"}
    ],
    "vlines": [{"v": -0.5}, {"v": 0.5}],
    "hlines": [{"v": 1.301}]
  },
  "layer": [
    {
      "data": {"name": "vlines"},
      "mark": {"type": "rule", "color": "#808080", "opacity": 0.5, "strokeWidth": 2.4, "strokeDash": [11.5, 5]},
      "encoding": {
        "x": {"field": "v", "type": "quantitative", "scale": {"domain": [-1.02, 10.48], "nice": false, "zero": false}}
      }
    },
    {
      "data": {"name": "hlines"},
      "mark": {"type": "rule", "color": "#808080", "opacity": 0.5, "strokeWidth": 2.4, "strokeDash": [11.5, 5]},
      "encoding": {
        "y": {"field": "v", "type": "quantitative", "scale": {"domain": [-7.0, 156.4], "nice": false, "zero": false}}
      }
    },
    {
      "data": {"name": "pts"},
      "mark": {"type": "circle", "opacity": 0.7, "strokeWidth": 1.2, "size": 84},
      "encoding": {
        "x": {
          "field": "x", "type": "quantitative",
          "scale": {"domain": [-1.02, 10.48], "nice": false, "zero": false},
          "axis": {"title": "Log2 FC", "values": [0, 2, 4, 6, 8, 10], "format": "d"}
        },
        "y": {
          "field": "y", "type": "quantitative",
          "scale": {"domain": [-7.0, 156.4], "nice": false, "zero": false},
          "axis": {"title": "-Log10(adj P)", "values": [0, 20, 40, 60, 80, 100, 120, 140], "format": "d"}
        },
        "color": {
          "field": "g", "type": "nominal",
          "scale": {"domain": ["Up", "Down", "NS"], "range": ["#e74c3c", "#3498db", "#bdc3c7"]},
          "legend": {
            "title": null, "orient": "top-right", "offset": 10,
            "labelExpr": "datum.label == 'Up' ? 'Up (837)' : datum.label == 'Down' ? 'Down (0)' : 'NS (63)'",
            "labelFont": "DejaVu Sans", "labelFontSize": 21, "labelColor": "#000",
            "symbolType": "circle", "symbolSize": 100, "symbolOpacity": 0.7, "symbolStrokeWidth": 0,
            "fillColor": "rgba(255,255,255,0.8)", "strokeColor": "#d0d0d0", "cornerRadius": 5,
            "padding": 10, "rowPadding": 9, "labelOffset": 26, "symbolOffset": 10
          }
        },
        "stroke": {
          "field": "g", "type": "nominal",
          "scale": {"domain": ["Up", "Down", "NS"], "range": ["#e74c3c", "#3498db", "#bdc3c7"]},
          "legend": null
        }
      }
    }
  ]
}
